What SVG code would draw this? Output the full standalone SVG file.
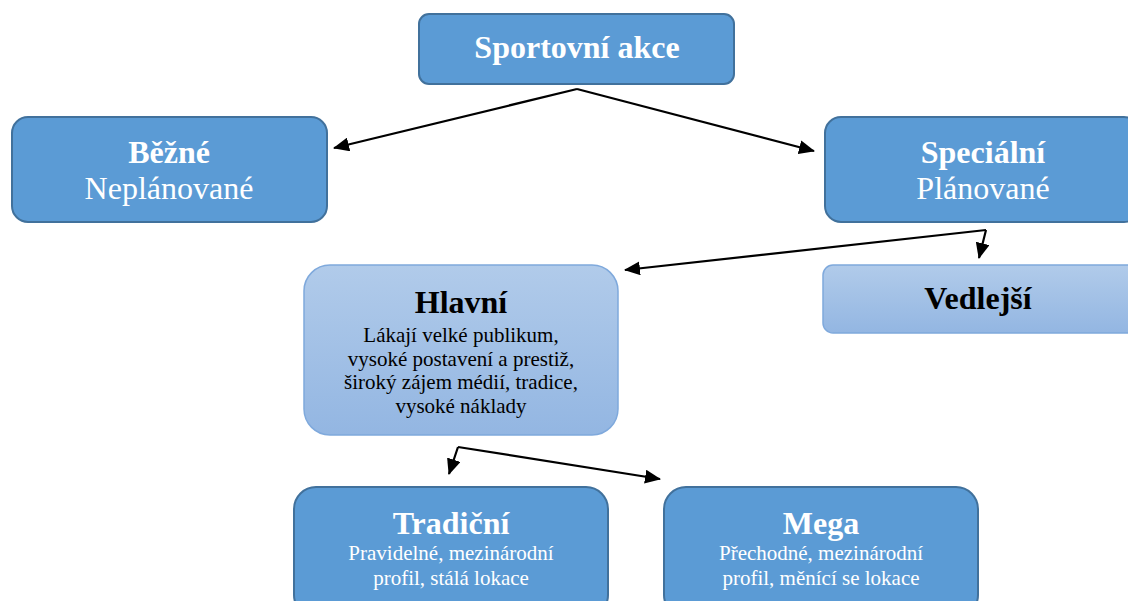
<svg xmlns="http://www.w3.org/2000/svg" width="1128" height="601" viewBox="0 0 1128 601">
<defs>
<linearGradient id="lg" x1="0" y1="0" x2="0" y2="1">
<stop offset="0" stop-color="#b1cbea"/>
<stop offset="1" stop-color="#93b6e2"/>
</linearGradient>
<marker id="a" viewBox="0 0 16 14" refX="15" refY="7" markerWidth="16" markerHeight="14" markerUnits="userSpaceOnUse" orient="auto">
<path d="M0,0 L16,7 L0,14 Z" fill="#000"/>
</marker>
</defs>
<style>
.dark{fill:#5b9bd5;stroke:#41719c;stroke-width:2}
.light{fill:url(#lg);stroke:#7fa9dc;stroke-width:1.5}
text{font-family:"Liberation Serif","Times New Roman",serif;text-anchor:middle}
.w{fill:#fff}
.k{fill:#000}
.b{font-weight:bold}
.t32{font-size:32px}
.t21{font-size:21px}
.c{fill:none;stroke:#000;stroke-width:2.2}
</style>
<g id="connectors">
<path class="c" d="M577,89 L334,148" marker-end="url(#a)"/>
<path class="c" d="M577,89 L814,151" marker-end="url(#a)"/>
<path class="c" d="M986,230 L625,270" marker-end="url(#a)"/>
<path class="c" d="M986,230 L979,258" marker-end="url(#a)"/>
<path class="c" d="M458,447 L449,474" marker-end="url(#a)"/>
<path class="c" d="M458,447 L660,479" marker-end="url(#a)"/>
</g>
<g id="sportovni">
<rect class="dark" x="419" y="14" width="315" height="70" rx="10"/>
<text class="w b t32" x="577" y="58">Sportovní akce</text>
</g>
<g id="bezne">
<rect class="dark" x="12" y="117" width="315" height="105" rx="16"/>
<text class="w b t32" x="169" y="163">Běžné</text>
<text class="w t32" x="169" y="199">Neplánované</text>
</g>
<g id="specialni">
<rect class="dark" x="825" y="117" width="315" height="105" rx="16"/>
<text class="w b t32" x="983" y="163">Speciální</text>
<text class="w t32" x="983" y="199">Plánované</text>
</g>
<g id="vedlejsi">
<rect class="light" x="823" y="265" width="317" height="68" rx="10"/>
<text class="k b t32" x="978" y="309">Vedlejší</text>
</g>
<g id="hlavni">
<rect class="light" x="304" y="265" width="314" height="170" rx="26"/>
<text class="k b t32" x="461" y="313">Hlavní</text>
<text class="k t21" x="461" y="342">Lákají velké publikum,</text>
<text class="k t21" x="461" y="366">vysoké postavení a prestiž,</text>
<text class="k t21" x="461" y="389">široký zájem médií, tradice,</text>
<text class="k t21" x="461" y="413">vysoké náklady</text>
</g>
<g id="tradicni">
<rect class="dark" x="294" y="487" width="314" height="130" rx="22"/>
<text class="w b t32" x="451" y="534">Tradiční</text>
<text class="w t21" x="451" y="560">Pravidelné, mezinárodní</text>
<text class="w t21" x="451" y="585">profil, stálá lokace</text>
</g>
<g id="mega">
<rect class="dark" x="664" y="487" width="314" height="130" rx="22"/>
<text class="w b t32" x="821" y="534">Mega</text>
<text class="w t21" x="821" y="560">Přechodné, mezinárodní</text>
<text class="w t21" x="821" y="585">profil, měnící se lokace</text>
</g>
</svg>
